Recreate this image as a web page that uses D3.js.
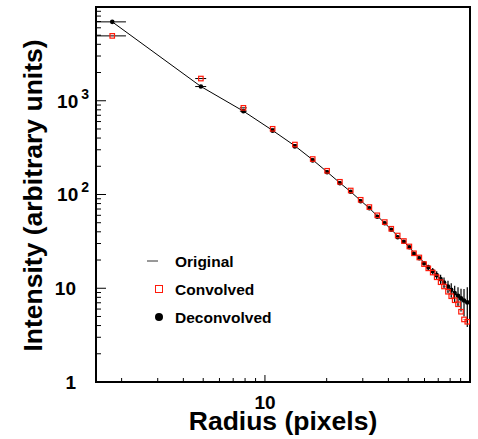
<!DOCTYPE html>
<html><head><meta charset="utf-8">
<script src="https://cdn.jsdelivr.net/npm/d3@7"></script>
<style>
html,body{margin:0;padding:0;background:#fff;}
svg{display:block;font-family:"Liberation Sans",Arial,Helvetica,sans-serif;font-weight:bold;}
</style></head>
<body><div id="chart"></div>
<script>
// ---- data ----
const radius = [1.8, 4.87, 7.85, 10.9, 14.0, 17.1, 20.1, 23.2, 26.2, 29.3, 32.3, 35.3, 38.4, 41.3, 44.4, 47.6,
  50.6, 53.3, 56.6, 59.7, 62.6, 65.8, 68.8, 71.9, 74.7, 78.1, 81.0, 84.2, 87.4, 90.4, 93.5, 97.0];
const radiusErr = [0.3, 0.3, 0.3, 0.3, 0.3, 0.3, 0.3, 0.3, 0.3, 0.3, 0.3, 0.3, 0.3, 0.3, 0.3, 0.3,
  0.3, 0.3, 0.3, 0.3, 0.3, 0.3, 0.3, 0.3, 0.3, 0.3, 0.3, 0.3, 0.3, 0.3, 0.3, 0.3];
const original = [6940, 1420, 775, 482, 330, 234, 174, 133, 107, 86, 71.5, 59, 49.5, 42.3, 36, 31.3,
  27.4, 24.0, 21.2, 18.8, 16.8, 15.1, 13.7, 12.5, 11.4, 10.45, 9.62, 8.9, 8.28, 7.74, 7.3, 7.0];
const convolved = [4920, 1725, 840, 502, 341, 239, 179, 136.6, 110.3, 87.8, 73.4, 60.0, 50.8, 43.1, 36.5, 31.9,
  27.9, 23.6, 21.3, 18.1, 16.3, 14.7, 13.1, 11.6, 10.45, 9.18, 8.22, 7.45, 6.75, 5.62, 4.65, 4.39];
const deconvolved = [6940, 1417, 775, 478, 326, 231, 172.5, 131.6, 106.9, 84.6, 71.3, 57.8, 49.3, 42.0, 35.0, 31.3,
  27.4, 23.3, 20.9, 18.5, 16.7, 15.2, 13.8, 12.5, 11.5, 10.45, 9.64, 8.89, 8.32, 7.79, 7.41, 7.06];
const deconvolvedErr = [40, 15, 8, 5, 4, 3, 2.5, 2, 1.8, 1.5, 1.3, 1.1, 1.0, 0.9, 0.8, 0.75,
  0.7, 0.75, 0.8, 1.0, 1.1, 1.25, 1.35, 1.45, 1.5, 1.6, 1.7, 1.75, 1.9, 2.1, 2.4, 3.2];
const xDomain = [1.5, 100];
const yDomain = [1, 10000];
const xTickLabels = [{v: 10, t: "10"}];
const yTickLabels = [{v: 1, base: "1", exp: ""}, {v: 10, base: "10", exp: ""},
  {v: 100, base: "10", exp: "2"}, {v: 1000, base: "10", exp: "3"}];
const legendItems = ["Original", "Convolved", "Deconvolved"];
const xTitle = "Radius (pixels)";
const yTitle = "Intensity (arbitrary units)";

// ---- drawing ----
const W = 478, H = 439;
const L = 96, R = 470, T = 7, B = 382;
const svg = d3.select("#chart").append("svg").attr("width", W).attr("height", H);
const x = d3.scaleLog().domain(xDomain).range([L, R]);
const y = d3.scaleLog().domain(yDomain).range([B, T]);

svg.append("defs").append("clipPath").attr("id", "clip")
  .append("rect").attr("x", L).attr("y", T).attr("width", R - L).attr("height", B - T);

const idx = d3.range(radius.length);

// x axis (ticks inside)
const xMinor = [];
for (let d = 1; d <= 10; d *= 10) for (let k = 1; k <= 9; k++) { const v = k * d; if (v > xDomain[0] && v < xDomain[1]) xMinor.push(v); }
const gx = svg.append("g").attr("transform", `translate(0,${B})`);
gx.selectAll("line.t").data(xMinor).enter().append("line")
  .attr("x1", d => x(d)).attr("x2", d => x(d))
  .attr("y1", 0).attr("y2", d => (Math.abs(Math.log10(d) % 1) < 1e-9) ? -7 : -4)
  .attr("stroke", "#000").attr("stroke-width", 1);
gx.selectAll("text").data(xTickLabels).enter().append("text")
  .attr("x", d => x(d.v)).attr("y", 26.5).attr("text-anchor", "middle")
  .attr("font-size", 19).text(d => d.t);

// y axis
const yMinor = [];
for (let d = 1; d <= 1000; d *= 10) for (let k = 1; k <= 9; k++) { const v = k * d; if (v > yDomain[0] && v < yDomain[1]) yMinor.push(v); }
const gy = svg.append("g").attr("transform", `translate(${L},0)`);
gy.selectAll("line.t").data(yMinor).enter().append("line")
  .attr("y1", d => y(d)).attr("y2", d => y(d))
  .attr("x1", 0).attr("x2", d => (Math.abs(Math.log10(d) % 1) < 1e-9) ? 10 : 5)
  .attr("stroke", "#000").attr("stroke-width", 1);
yTickLabels.forEach(d => {
  const t = gy.append("text").attr("y", y(d.v) + 6.8).attr("font-size", 19).attr("text-anchor", "end");
  if (d.exp) {
    t.attr("x", -7);
    t.append("tspan").text(d.base);
    t.append("tspan").attr("font-size", 14).attr("dx", 3).attr("dy", -9).text(d.exp);
  } else {
    t.attr("x", -20).text(d.base);
  }
});

// frame
svg.append("rect").attr("x", L).attr("y", T).attr("width", R - L).attr("height", B - T)
  .attr("fill", "none").attr("stroke", "#000").attr("stroke-width", 2);

// titles
svg.append("text").attr("x", (L + R) / 2).attr("y", 430).attr("text-anchor", "middle")
  .attr("font-size", 26.5).text(xTitle);
svg.append("text").attr("transform", `translate(42,${(T + B) / 2 + 1}) rotate(-90)`)
  .attr("text-anchor", "middle").attr("font-size", 26.5).text(yTitle);

const plot = svg.append("g").attr("clip-path", "url(#clip)");

// Original curve
plot.append("path").datum(idx)
  .attr("d", d3.line().x(i => x(radius[i])).y(i => y(original[i])))
  .attr("fill", "none").attr("stroke", "#000").attr("stroke-width", 1);

// Deconvolved error bars
plot.selectAll("line.dex").data(idx).enter().append("line")
  .attr("x1", i => x(radius[i] - radiusErr[i])).attr("x2", i => x(radius[i] + radiusErr[i]))
  .attr("y1", i => y(deconvolved[i])).attr("y2", i => y(deconvolved[i]))
  .attr("stroke", "#000").attr("stroke-width", 1);
plot.selectAll("line.dey").data(idx).enter().append("line")
  .attr("x1", i => x(radius[i])).attr("x2", i => x(radius[i]))
  .attr("y1", i => y(deconvolved[i] + deconvolvedErr[i]))
  .attr("y2", i => y(Math.max(deconvolved[i] - deconvolvedErr[i], 1e-3)))
  .attr("stroke", "#000").attr("stroke-width", 1.2);

// Convolved x error bars
plot.selectAll("line.cex").data(idx).enter().append("line")
  .attr("x1", i => x(radius[i] - radiusErr[i])).attr("x2", i => x(radius[i] + radiusErr[i]))
  .attr("y1", i => y(convolved[i])).attr("y2", i => y(convolved[i]))
  .attr("stroke", "#000").attr("stroke-width", 1);

// Deconvolved dots
plot.selectAll("circle.dec").data(idx).enter().append("circle")
  .attr("cx", i => x(radius[i])).attr("cy", i => y(deconvolved[i])).attr("r", 2.3)
  .attr("fill", "#000");

// Convolved squares
const s = 4.5;
plot.selectAll("rect.conv").data(idx).enter().append("rect")
  .attr("x", i => x(radius[i]) - s / 2).attr("y", i => y(convolved[i]) - s / 2)
  .attr("width", s).attr("height", s)
  .attr("fill", "none").attr("stroke", "#ff1a0a").attr("stroke-width", 1.2);

// legend
const lg = svg.append("g");
const ly = [261, 289, 317];
lg.append("line").attr("x1", 147).attr("x2", 158).attr("y1", ly[0]).attr("y2", ly[0])
  .attr("stroke", "#333").attr("stroke-width", 1);
lg.append("rect").attr("x", 155.5).attr("y", ly[1] - 3.5).attr("width", 7).attr("height", 7)
  .attr("fill", "none").attr("stroke", "#ff1a0a").attr("stroke-width", 1);
lg.append("circle").attr("cx", 159).attr("cy", ly[2]).attr("r", 4).attr("fill", "#000");
lg.selectAll("text").data(legendItems).enter().append("text")
  .attr("x", 175).attr("y", (d, i) => ly[i] + 5.5).attr("font-size", 15.5).text(d => d);
</script>
</body></html>
